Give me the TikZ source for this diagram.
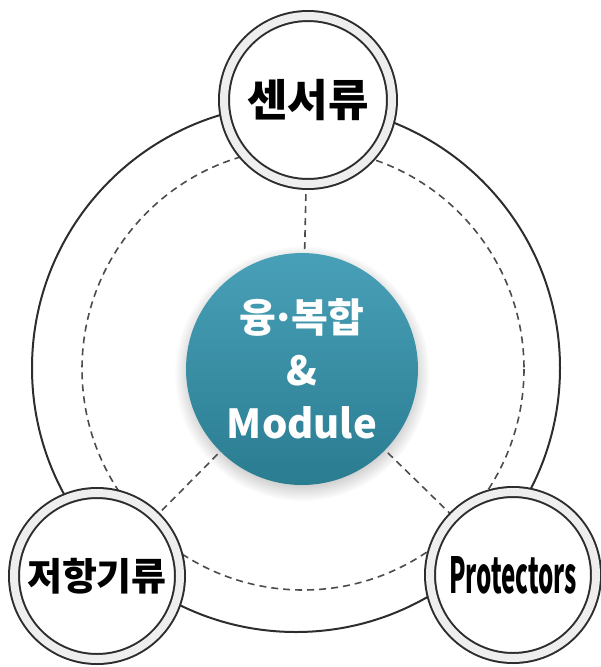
\documentclass[tikz,border=0pt]{standalone}
\usepackage{fontspec}
\newfontfamily\kr{Noto Sans CJK KR}
\usetikzlibrary{shadows}
\definecolor{tealtop}{RGB}{72,160,184}
\definecolor{tealbot}{RGB}{42,124,144}
\definecolor{ringline}{RGB}{45,45,45}
\definecolor{ringfill}{RGB}{238,238,238}
\tikzset{
  bigring/.style={draw=ringline, line width=2pt},
  dashring/.style={draw=ringline!85, line width=1.6pt, dash pattern=on 7pt off 5pt},
  spoke/.style={draw=ringline!85, line width=1.6pt, dash pattern=on 7pt off 5pt},
  itemnode/.style={circle, draw=ringline, line width=2pt, double=ringfill, double distance=8pt,
    fill=white, inner sep=0pt, minimum size=#1},
  hubnode/.style={circle, inner sep=0pt, minimum size=232pt, top color=tealtop, bottom color=tealbot,
    circular drop shadow={shadow xshift=0pt, shadow yshift=-4pt, opacity=0.35, fill=black!60},
    text=white, align=center, font=\kr\bfseries\fontsize{40}{53}\selectfont}
}
\begin{document}
\begin{tikzpicture}[x=1pt,y=-1pt]
\useasboundingbox (0,0) rectangle (601,667);
\coordinate (oc) at (296,368);
\coordinate (dc) at (303,369);
\coordinate (hubc) at (302,369);
\coordinate (topc) at (308,100);
\coordinate (leftc) at (97,576);
\coordinate (rightc) at (513,575);
\draw[bigring] (oc) circle (264);
\draw[dashring] (dc) circle (221);
\draw[spoke] (hubc) -- (topc);
\draw[spoke] (hubc) -- (leftc);
\draw[spoke] (hubc) -- (rightc);
\node[hubnode] (hub) at (hubc) {융\kern-0.12em·\kern-0.12em복합\\\&\\Module};
\node[itemnode=168pt, font=\kr\bfseries\fontsize{44}{44}\selectfont] (top) at (topc) {센서류};
\node[itemnode=166pt, font=\kr\bfseries\fontsize{38}{38}\selectfont] (left) at (leftc) {저항기류};
\node[itemnode=166pt, font=\kr\bfseries] (right) at (rightc) {\resizebox{128pt}{37pt}{Protectors}};
\end{tikzpicture}
\end{document}
